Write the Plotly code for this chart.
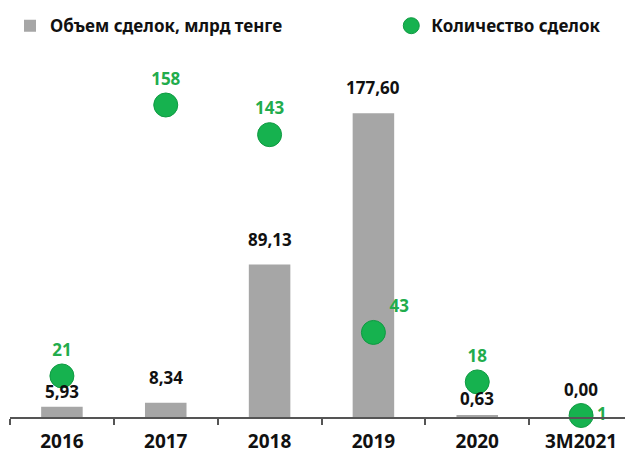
import plotly.graph_objects as go

# данные
years = ['2016', '2017', '2018', '2019', '2020', '3M2021']
volume = [5.93, 8.34, 89.13, 177.60, 0.63, 0.00]     # объем сделок, млрд тенге
deals = [21, 158, 143, 43, 18, 1]                     # количество сделок
volume_labels = ['5,93', '8,34', '89,13', '177,60', '0,63', '0,00']

FONT = 'Noto Sans'
GREEN = '#16b24f'
TEXT_GREEN = '#22ac4c'

fig = go.Figure()

fig.add_trace(go.Bar(
    x=years, y=volume, name='Объем сделок, млрд тенге',
    marker=dict(color='#a6a6a6', line=dict(width=0)),
    width=0.4, legend='legend',
))

fig.add_trace(go.Scatter(
    x=years, y=deals, yaxis='y2', name='Количество сделок',
    mode='markers+text',
    marker=dict(size=24, color=GREEN, line=dict(color='#0f9a42', width=1)),
    text=[str(d) for d in deals],
    textposition=['top center', 'top center', 'top center',
                  'top right', 'top center', 'middle right'],
    textfont=dict(family=FONT, size=17, color=TEXT_GREEN, weight='bold'),
    cliponaxis=False, legend='legend2',
))

# подписи над столбцами (x как индекс категории: '2016' иначе читается как номер)
label_shift = [2, 12, 12, 12, 4, 14]
for i, (v, lab, sh) in enumerate(zip(volume, volume_labels, label_shift)):
    fig.add_annotation(x=i, y=v, text=lab, showarrow=False,
                       yanchor='bottom', yshift=sh,
                       font=dict(family=FONT, size=17, color='#111111', weight='bold'))

legend_font = dict(family=FONT, size=17, color='#111111', weight='bold')

# страница даёт отступ 8px, поэтому фигура чуть меньше окна
fig.update_layout(
    width=625, height=446,
    margin=dict(l=2, r=0, t=37, b=37),
    paper_bgcolor='white', plot_bgcolor='white',
    showlegend=True,
    legend=dict(orientation='h', x=0.0, y=1.065, yanchor='middle', xanchor='left',
                font=legend_font),
    legend2=dict(orientation='h', x=0.612, y=1.065, yanchor='middle', xanchor='left',
                 font=legend_font),
    xaxis=dict(type='category', range=[-0.5, len(years) - 0.5],
               showline=True, linecolor='#555555', linewidth=2,
               ticks='outside', tickson='boundaries', ticklen=6, tickwidth=2,
               tickcolor='#555555', showgrid=False, ticklabelstandoff=6,
               tickfont=dict(family=FONT, size=19, color='#111111', weight='bold')),
    yaxis=dict(range=[0, 214.5], visible=False, showgrid=False),
    yaxis2=dict(range=[0.25, 185.8], overlaying='y', visible=False, showgrid=False),
)

fig.write_html('out.html')
